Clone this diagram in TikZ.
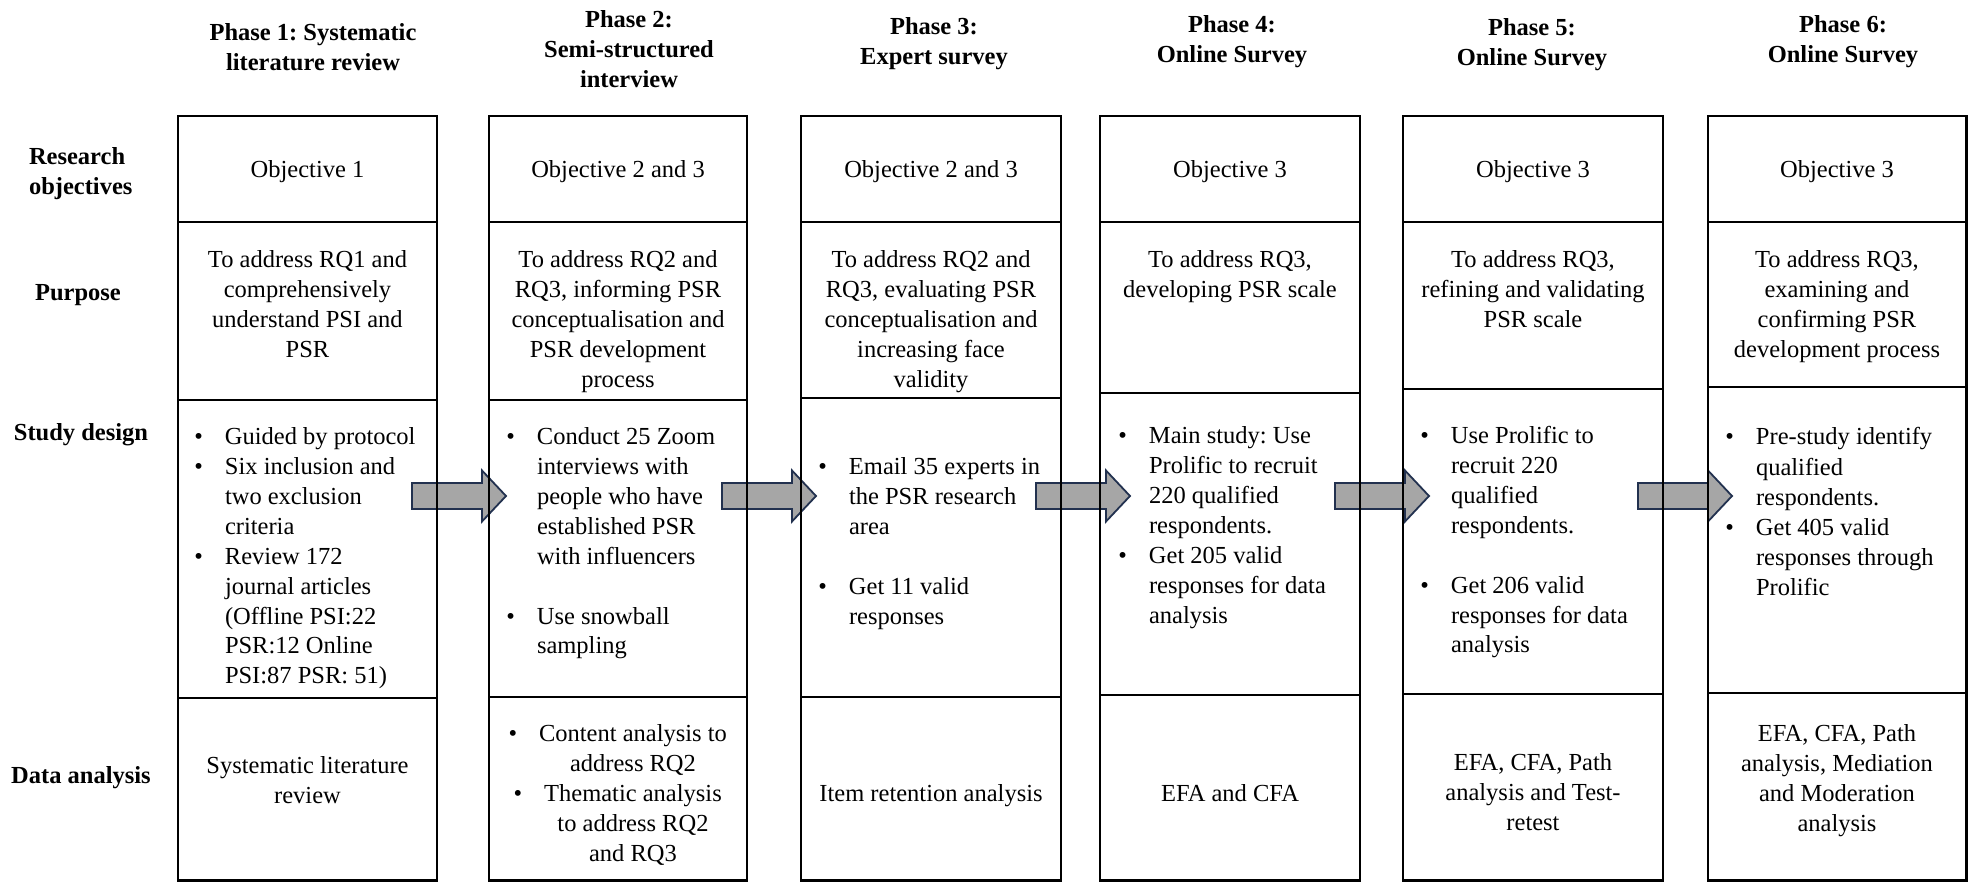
\documentclass[tikz,border=0pt]{standalone}
\usepackage{fontspec}
\setmainfont{Liberation Serif}
\usetikzlibrary{fit,calc}
\definecolor{arrowfill}{HTML}{A6A6A6}
\definecolor{arrowline}{HTML}{22314F}
\frenchspacing
% hanging bullet placed to the left of the current line
\newcommand\itembul{\leavevmode\llap{\textbullet\hspace{22pt}}}
\newcommand\ctext[1]{\parbox[t]{320pt}{\centering #1}}
\newcommand\ltext[1]{\parbox[t]{300pt}{\raggedright #1}}

\begin{document}
\begin{tikzpicture}[x=1pt,y=-1pt,
  every node/.style={inner sep=0pt, outer sep=0pt, font=\fontsize{24.5}{30}\selectfont},
  cell/.style={draw=black, line width=2.8pt, fit={#1}},
  bodyc/.style={anchor=base},
  bodyl/.style={anchor=base west},
  head/.style={anchor=base, font=\fontsize{24.5}{30}\selectfont\bfseries},
  rowlabel/.style={anchor=base, font=\fontsize{24.5}{30}\selectfont\bfseries},
  blockarrow/.style={fill=arrowfill, draw=arrowline, line width=1.8pt, line join=miter},
]
\useasboundingbox (0,0) rectangle (1968,882);
\fill[white] (0,0) rectangle (1968,882);

% ---- phase headings ----
\node[head] (h1) at (313,41) {\ctext{Phase 1: Systematic\\literature review}};
\node[head] (h2) at (629,28) {\ctext{Phase 2:\\Semi-structured\\interview}};
\node[head] (h3) at (934,35) {\ctext{Phase 3:\\Expert survey}};
\node[head] (h4) at (1232,33) {\ctext{Phase 4:\\Online Survey}};
\node[head] (h5) at (1532,36) {\ctext{Phase 5:\\Online Survey}};
\node[head] (h6) at (1843,33) {\ctext{Phase 6:\\Online Survey}};

% ---- row labels ----
\node[rowlabel, anchor=base west] (lobj) at (29,165) {\ltext{Research\\objectives}};
\node[rowlabel] (lpur) at (78,301) {Purpose};
\node[rowlabel] (lstu) at (81,440) {Study design};
\node[rowlabel] (ldat) at (81,783) {Data analysis};

% ---- block arrows between the study-design cells (drawn below the grid) ----
\node[inner sep=0pt, fit={(178,400) (437,698)}] (c1s) {};
\node[inner sep=0pt, fit={(489,400) (747,697)}] (c2s) {};
\node[inner sep=0pt, fit={(801,398) (1061,697)}] (c3s) {};
\node[inner sep=0pt, fit={(1100,393) (1360,695)}] (c4s) {};
\node[inner sep=0pt, fit={(1403,389) (1663,694)}] (c5s) {};
\node[inner sep=0pt, fit={(1708,387) (1966.5,693)}] (c6s) {};
\foreach \src/\nm in {c1s/a12, c2s/a23, c3s/a34, c4s/a45, c5s/a56}{
  \path (\src.east |- 0,495.5) ++(-25,0) coordinate (\nm);
  \draw[blockarrow] (\nm) ++(0,-12.5) -- ++(70,0) -- ++(0,-12.5) -- ++(24,25.5)
    -- ++(-24,25.5) -- ++(0,-12.5) -- ++(-70,0) -- cycle;
}

% ---- column 1 ----
\node[cell={(178,116) (437,222)}] (c1o) {};
\node[cell={(178,222) (437,400)}] (c1p) {};
\node[cell={(178,400) (437,698)}] {};
\node[cell={(178,698) (437,880.5)}] (c1d) {};
% ---- column 2 ----
\node[cell={(489,116) (747,222)}] (c2o) {};
\node[cell={(489,222) (747,400)}] (c2p) {};
\node[cell={(489,400) (747,697)}] {};
\node[cell={(489,697) (747,880.5)}] (c2d) {};
% ---- column 3 ----
\node[cell={(801,116) (1061,222)}] (c3o) {};
\node[cell={(801,222) (1061,398)}] (c3p) {};
\node[cell={(801,398) (1061,697)}] {};
\node[cell={(801,697) (1061,880.5)}] (c3d) {};
% ---- column 4 ----
\node[cell={(1100,116) (1360,222)}] (c4o) {};
\node[cell={(1100,222) (1360,393)}] (c4p) {};
\node[cell={(1100,393) (1360,695)}] {};
\node[cell={(1100,695) (1360,880.5)}] (c4d) {};
% ---- column 5 ----
\node[cell={(1403,116) (1663,222)}] (c5o) {};
\node[cell={(1403,222) (1663,389)}] (c5p) {};
\node[cell={(1403,389) (1663,694)}] {};
\node[cell={(1403,694) (1663,880.5)}] (c5d) {};
% ---- column 6 ----
\node[cell={(1708,116) (1966.5,222)}] (c6o) {};
\node[cell={(1708,222) (1966.5,387)}] (c6p) {};
\node[cell={(1708,387) (1966.5,693)}] {};
\node[cell={(1708,693) (1966.5,880.5)}] (c6d) {};

% ---- research objectives ----
\node[bodyc] (o1) at (307.5,178) {Objective 1};
\node[bodyc] (o2) at (618,178) {Objective 2 and 3};
\node[bodyc] (o3) at (931,178) {Objective 2 and 3};
\node[bodyc] (o4) at (1230,178) {Objective 3};
\node[bodyc] (o5) at (1533,178) {Objective 3};
\node[bodyc] (o6) at (1837,178) {Objective 3};

% ---- purpose ----
\node[bodyc] (p1) at (307.5,268) {\ctext{To address RQ1 and\\comprehensively\\understand PSI and\\PSR}};
\node[bodyc] (p2) at (618,268) {\ctext{To address RQ2 and\\RQ3, informing PSR\\conceptualisation and\\PSR development\\process}};
\node[bodyc] (p3) at (931,268) {\ctext{To address RQ2 and\\RQ3, evaluating PSR\\conceptualisation and\\increasing face\\validity}};
\node[bodyc] (p4) at (1230,268) {\ctext{To address RQ3,\\developing PSR scale}};
\node[bodyc] (p5) at (1533,268) {\ctext{To address RQ3,\\refining and validating\\PSR scale}};
\node[bodyc] (p6) at (1837,268) {\ctext{To address RQ3,\\examining and\\confirming PSR\\development process}};

% ---- study design ----
\node[bodyl] (s1) at (225,444) {\ltext{\itembul Guided by protocol\\
  \itembul Six inclusion and\\two exclusion\\criteria\\
  \itembul Review 172\\journal articles\\(Offline PSI:22\\PSR:12 Online\\PSI:87 PSR: 51)}};
\node[bodyl] (s2) at (537,444) {\ltext{\itembul Conduct 25 Zoom\\interviews with\\people who have\\established PSR\\with influencers\\[30pt]
  \itembul Use snowball\\sampling}};
\node[bodyl] (s3) at (849,474) {\ltext{\itembul Email 35 experts in\\the PSR research\\area\\[30pt]
  \itembul Get 11 valid\\responses}};
\node[bodyl] (s4) at (1149,443) {\ltext{\itembul Main study: Use\\Prolific to recruit\\220 qualified\\respondents.\\
  \itembul Get 205 valid\\responses for data\\analysis}};
\node[bodyl] (s5) at (1451,443) {\ltext{\itembul Use Prolific to\\recruit 220\\qualified\\respondents.\\[30pt]
  \itembul Get 206 valid\\responses for data\\analysis}};
\node[bodyl] (s6) at (1756,445) {\ltext{\itembul Pre-study identify\\qualified\\respondents.\\
  \itembul Get 405 valid\\responses through\\Prolific}};

% ---- data analysis ----
\node[bodyc] (d1) at (307.5,773) {\ctext{Systematic literature\\review}};
\node[bodyc] (d2) at (633,741) {\ctext{\itembul Content analysis to\\address RQ2\\
  \itembul Thematic analysis\\to address RQ2\\and RQ3}};
\node[bodyc] (d3) at (931,801) {Item retention analysis};
\node[bodyc] (d4) at (1230,801) {EFA and CFA};
\node[bodyc] (d5) at (1533,770) {\ctext{EFA, CFA, Path\\analysis and Test-\\retest}};
\node[bodyc] (d6) at (1837,741) {\ctext{EFA, CFA, Path\\analysis, Mediation\\and Moderation\\analysis}};
\end{tikzpicture}
\end{document}
